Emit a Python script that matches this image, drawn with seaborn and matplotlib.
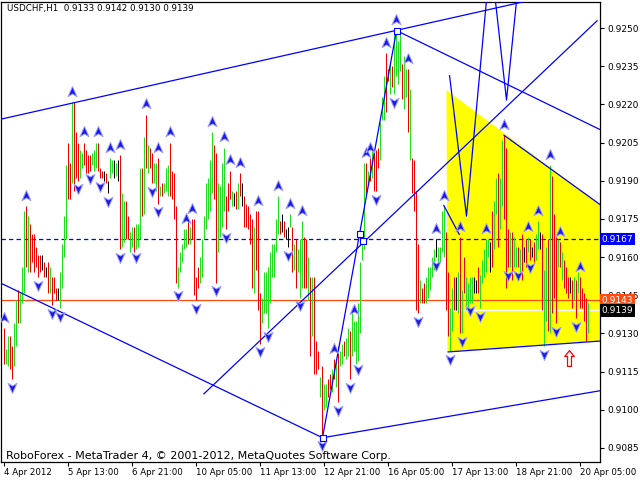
import numpy as np
import pandas as pd
import matplotlib
matplotlib.use("Agg")
import matplotlib.pyplot as plt
import matplotlib.transforms as mtrans
from matplotlib.path import Path
import seaborn as sns

# USDCHF H1, one entry per bar, prices in pips (0.9132 -> 9132)
highs = [
    9132, 9124, 9129, 9129, 9125, 9134, 9143, 9147, 9146, 9156,
    9178, 9180, 9176, 9173, 9169, 9169, 9164, 9161, 9161, 9161,
    9158, 9156, 9158, 9156, 9152, 9152, 9148, 9148, 9154, 9165,
    9176, 9196, 9205, 9197, 9221, 9221, 9209, 9205, 9202, 9201,
    9205, 9202, 9200, 9200, 9201, 9202, 9205, 9205, 9195, 9194,
    9194, 9193, 9190, 9199, 9198, 9198, 9197, 9198, 9200, 9185,
    9182, 9182, 9176, 9170, 9172, 9172, 9173, 9173, 9195, 9195,
    9207, 9216, 9204, 9203, 9201, 9197, 9197, 9199, 9188, 9189,
    9189, 9195, 9196, 9205, 9194, 9193, 9180, 9156, 9162, 9165,
    9171, 9171, 9175, 9172, 9175, 9175, 9152, 9156, 9160, 9167,
    9176, 9189, 9191, 9198, 9209, 9204, 9201, 9189, 9188, 9197,
    9203, 9184, 9189, 9194, 9186, 9185, 9186, 9189, 9193, 9189,
    9184, 9181, 9180, 9177, 9175, 9172, 9178, 9178, 9146, 9144,
    9154, 9154, 9156, 9162, 9165, 9165, 9175, 9184, 9174, 9177,
    9174, 9171, 9172, 9177, 9172, 9165, 9167, 9163, 9167, 9174,
    9168, 9167, 9160, 9152, 9152, 9152, 9127, 9123, 9113, 9117,
    9110, 9110, 9112, 9114, 9116, 9120, 9120, 9125, 9123, 9126,
    9127, 9128, 9132, 9131, 9139, 9135, 9135, 9142, 9158, 9168,
    9197, 9197, 9194, 9199, 9202, 9201, 9202, 9203, 9213, 9223,
    9231, 9240, 9234, 9237, 9235, 9249, 9249, 9245, 9248, 9236,
    9239, 9234, 9234, 9226, 9199, 9198, 9186, 9165, 9151, 9148,
    9150, 9152, 9156, 9156, 9160, 9163, 9167, 9164, 9164, 9178,
    9180, 9170, 9154, 9140, 9148, 9152, 9152, 9154, 9168, 9147,
    9160, 9152, 9150, 9152, 9152, 9152, 9151, 9156, 9153, 9159,
    9163, 9167, 9167, 9166, 9178, 9182, 9191, 9193, 9191, 9206,
    9208, 9203, 9171, 9170, 9170, 9168, 9164, 9164, 9163, 9169,
    9164, 9167, 9168, 9167, 9164, 9166, 9169, 9174, 9170, 9169,
    9155, 9164, 9167, 9196, 9192, 9177, 9168, 9167, 9166, 9162,
    9159, 9156, 9152, 9152, 9151, 9152, 9151, 9154, 9152, 9148,
    9146, 9144, 9142,
]
lows = [
    9118, 9118, 9117, 9116, 9112, 9117, 9125, 9134, 9134, 9142,
    9146, 9156, 9154, 9154, 9158, 9154, 9156, 9152, 9154, 9155,
    9152, 9152, 9146, 9146, 9141, 9146, 9143, 9143, 9140, 9148,
    9160, 9167, 9183, 9183, 9189, 9186, 9191, 9190, 9191, 9195,
    9196, 9193, 9193, 9194, 9196, 9194, 9195, 9194, 9191, 9191,
    9190, 9189, 9185, 9191, 9193, 9191, 9192, 9190, 9163, 9164,
    9166, 9167, 9167, 9162, 9164, 9162, 9163, 9164, 9167, 9176,
    9177, 9195, 9193, 9195, 9189, 9189, 9186, 9181, 9184, 9184,
    9185, 9186, 9184, 9184, 9183, 9175, 9150, 9148, 9154, 9158,
    9163, 9164, 9165, 9165, 9167, 9145, 9143, 9148, 9150, 9152,
    9167, 9171, 9175, 9178, 9185, 9183, 9150, 9162, 9168, 9172,
    9178, 9171, 9178, 9183, 9180, 9180, 9179, 9179, 9184, 9180,
    9172, 9172, 9171, 9165, 9148, 9146, 9155, 9139, 9126, 9134,
    9138, 9138, 9132, 9142, 9152, 9152, 9162, 9169, 9169, 9170,
    9168, 9167, 9164, 9172, 9154, 9155, 9148, 9154, 9144, 9148,
    9148, 9148, 9143, 9121, 9129, 9114, 9114, 9116, 9105, 9089,
    9100, 9101, 9105, 9108, 9107, 9112, 9109, 9103, 9117, 9118,
    9121, 9120, 9121, 9112, 9121, 9123, 9118, 9119, 9130, 9159,
    9163, 9185, 9189, 9190, 9191, 9186, 9186, 9195, 9198, 9214,
    9214, 9217, 9229, 9224, 9227, 9224, 9231, 9228, 9233, 9222,
    9218, 9223, 9209, 9198, 9185, 9178, 9139, 9138, 9142, 9142,
    9142, 9142, 9144, 9147, 9152, 9155, 9160, 9156, 9158, 9162,
    9160, 9139, 9129, 9123, 9131, 9139, 9139, 9138, 9130, 9130,
    9146, 9139, 9139, 9142, 9142, 9146, 9146, 9146, 9140, 9150,
    9152, 9154, 9160, 9154, 9156, 9163, 9177, 9164, 9171, 9180,
    9175, 9148, 9156, 9156, 9151, 9156, 9156, 9156, 9154, 9151,
    9158, 9156, 9162, 9159, 9160, 9158, 9159, 9163, 9163, 9139,
    9125, 9135, 9131, 9130, 9138, 9144, 9134, 9156, 9156, 9151,
    9148, 9146, 9144, 9146, 9140, 9143, 9136, 9146, 9140, 9140,
    9135, 9127, 9130,
]
# g = bull bar, r = bear bar, k = doji
directions = (
    "rggrrggrgg" "grgrrrrrrk" "rkrgrrrkgg" "ggrrgrrrgg" "rrrrgggrrr"
    "krkggkgkrg" "grrggrgggr" "grgrrggrgr" "gggrrrrggg" "ggrgrrrrgg"
    "gggggrrggg" "grrrgkrgrk" "rrrrrgrrrg" "ggggggggrk" "rkkgrgrggg"
    "rrgrgrrrgr" "ggrrgrgrgg" "rggrgggggg" "grgrgrrrgg" "grrgrggggr"
    "ggrgrrrrgr" "rgggggkggg" "grrggrkgrg" "rggggkkrgg" "gggkrggrgg"
    "rrrgrggrgr" "krgrkrggkr" "ggrgrrrgrg" "rrrkrgrgrr" "rrg"
)

up_fractals = [0, 11, 34, 40, 47, 53, 58, 71, 77, 83, 91, 94, 104, 110, 113,
               118, 127, 137, 143, 149, 165, 175, 181, 183, 191, 196, 202,
               216, 220, 228, 241, 250, 262, 267, 273, 278, 288]
down_fractals = [4, 17, 24, 28, 37, 43, 48, 52, 58, 66, 74, 77, 87, 96, 106,
                 111, 128, 132, 142, 148, 159, 167, 173, 177, 186, 195, 207,
                 216, 223, 229, 233, 238, 252, 257, 263, 270, 276, 286]

time_ticks = [0, 32, 64, 96, 128, 160, 192, 224, 256, 288]
time_labels = ["4 Apr 2012", "5 Apr 13:00", "6 Apr 21:00", "10 Apr 05:00",
               "11 Apr 13:00", "12 Apr 21:00", "16 Apr 05:00", "17 Apr 13:00",
               "18 Apr 21:00", "20 Apr 05:00"]
price_ticks = [0.9085, 0.9100, 0.9115, 0.9130, 0.9145, 0.9160, 0.9175,
               0.9190, 0.9205, 0.9220, 0.9235, 0.9250]

# drawn objects: (bar, price)
channel_top = [(34.5, 0.92205), (196.0, 0.9249)]
channel_fall = [(-1.5, 0.91498), (159.5, 0.9089)]
channel_low = [(159.5, 0.9089), (298.5, 0.91075)]
peak_fall = [(196.5, 0.9249), (298.5, 0.9210)]
impulse = [(159.5, 0.9089), (196.5, 0.9249)]
long_diag = [(100.0, 0.91061), (297.0, 0.92530)]
zigzag = [(223.0, 0.92315), (231.5, 0.91761), (243.5, 0.92779),
          (251.5, 0.92217), (259.0, 0.92800)]
small_seg = [(220.0, 0.91805), (228.0, 0.91687)]
tri_top = [(250.0, 0.92080), (298.5, 0.91805)]
tri_bottom = [(222.0, 0.91227), (298.5, 0.91270)]
triangle = [(221.5, 0.92256), (222.0, 0.91227), (381.5, 0.91317)]
handles = [(159.5, 0.9089), (196.5, 0.9249), (178.0, 0.9169), (179.5, 0.91665)]
signal_arrow = (282.5, 0.91203)

level_blue = 0.9167
level_bid = 0.9143
level_close = 0.9139

df = pd.DataFrame({
    "bar": np.arange(len(highs)),
    "high": np.array(highs) / 10000,
    "low": np.array(lows) / 10000,
    "dir": list(directions),
})

sns.set_theme(style="white")
plt.rcParams["font.family"] = ["DejaVu Sans"]

fig = plt.figure(figsize=(6.4, 4.8), dpi=100)
fig.patch.set_facecolor("white")
ax = fig.add_axes([1 / 640, 18 / 480, 599 / 640, 460 / 480])
ax.set_facecolor("white")
# 2 px per bar, bar centres on pixel centres
ax.set_xlim(-1.25, 298.25)
ax.set_ylim(0.907947, 0.926022)

# yellow triangle
tri = plt.Polygon([(x, y) for x, y in triangle], closed=True,
                  facecolor="#ffff00", edgecolor="none", zorder=1)
ax.add_patch(tri)

# horizontal levels
ax.axhline(level_blue, color="#0000ff", lw=0.9, dashes=(3.5, 2.5), zorder=2)
ax.axhline(level_bid, color="#ff4a10", lw=0.9, zorder=2)
ax.axhline(level_close, color="white", lw=0.9, zorder=2)

# price bars, one pixel wide
bar_colors = {"g": "#22dd22", "r": "#ee0000", "k": "#000000"}
for d, grp in df.groupby("dir"):
    ax.vlines(grp["bar"], grp["low"], grp["high"], color=bar_colors[d],
              lw=0.72, zorder=3)

# trend lines
line_kw = dict(color="#0000ff", lw=0.9, zorder=4, solid_capstyle="butt")
ax.axline(channel_top[0], channel_top[1], **line_kw)
for seg in [channel_fall, channel_low, peak_fall, impulse, long_diag,
            zigzag, small_seg, tri_top, tri_bottom]:
    xs, ys = zip(*seg)
    ax.plot(xs, ys, **line_kw)

# fractal arrows
up_path = Path([(0, 1), (0.75, -0.7), (0, -0.25), (-0.75, -0.7), (0, 1)],
               [Path.MOVETO, Path.LINETO, Path.LINETO, Path.LINETO, Path.CLOSEPOLY])
down_path = Path([(0, -1), (0.75, 0.7), (0, 0.25), (-0.75, 0.7), (0, -1)],
                 [Path.MOVETO, Path.LINETO, Path.LINETO, Path.LINETO, Path.CLOSEPOLY])
ups = df.loc[up_fractals, ["bar", "high"]].assign(pos=lambda t: t["high"] + 0.0004)
downs = df.loc[down_fractals, ["bar", "low"]].assign(pos=lambda t: t["low"] - 0.0003)
sns.scatterplot(data=ups, x="bar", y="pos", marker=up_path, s=75,
                color="#1a1ae6", edgecolor="#a0a0ff", linewidth=0.7,
                legend=False, ax=ax, zorder=5, clip_on=True)
sns.scatterplot(data=downs, x="bar", y="pos", marker=down_path, s=75,
                color="#1a1ae6", edgecolor="#a0a0ff", linewidth=0.7,
                legend=False, ax=ax, zorder=5, clip_on=True)

# selection handles
hx, hy = zip(*handles)
ax.scatter(hx, hy, marker="s", s=20, facecolor="white", edgecolor="#0000ff",
           linewidth=0.8, zorder=6)

# red signal arrow
sig_path = Path([(0, 1), (0.6, 0.25), (0.25, 0.25), (0.25, -1), (-0.25, -1),
                 (-0.25, 0.25), (-0.6, 0.25), (0, 1)],
                [Path.MOVETO] + [Path.LINETO] * 6 + [Path.CLOSEPOLY])
ax.scatter([signal_arrow[0]], [signal_arrow[1]], marker=sig_path, s=130,
           facecolor="white", edgecolor="#ff0000", linewidth=0.9, zorder=6)

# axes styling
for sp in ax.spines.values():
    sp.set_color("black")
    sp.set_linewidth(0.9)
ax.yaxis.tick_right()
ax.set_yticks(price_ticks)
ax.set_yticklabels([f"{p:.4f}" for p in price_ticks], ha="left")
ax.set_xticks(time_ticks)
ax.set_xticklabels(time_labels, ha="left")
ax.tick_params(axis="y", which="both", right=True, left=False, direction="out",
               length=3, width=0.8, pad=2, labelsize=6.5, colors="black")
ax.tick_params(axis="x", which="both", bottom=True, direction="out",
               length=3, width=0.8, pad=1.5, labelsize=6.2, colors="black")
ax.set_xlabel("")
ax.set_ylabel("")
ax.grid(False)

# price boxes on the right scale
box_tr = mtrans.blended_transform_factory(ax.transAxes, ax.transData)
for price, bg in [(level_blue, "#0000ff"), (level_bid, "#ff4a10"), (level_close, "#000000")]:
    ax.text(1.003, price, f"{price:.4f}", transform=box_tr, color="white",
            fontsize=6.5, ha="left", va="center", clip_on=False, zorder=10,
            bbox=dict(boxstyle="square,pad=0.18", facecolor=bg, edgecolor="none"))

fig.text(7 / 640, 1 - 4 / 480, "USDCHF,H1  0.9133 0.9142 0.9130 0.9139",
         fontsize=6.3, va="top", ha="left", color="black")
fig.text(6 / 640, 1 - 461 / 480,
         "RoboForex - MetaTrader 4, © 2001-2012, MetaQuotes Software Corp.",
         fontsize=8, va="bottom", ha="left", color="black")

fig.savefig("out.png", dpi=100, facecolor="white")
